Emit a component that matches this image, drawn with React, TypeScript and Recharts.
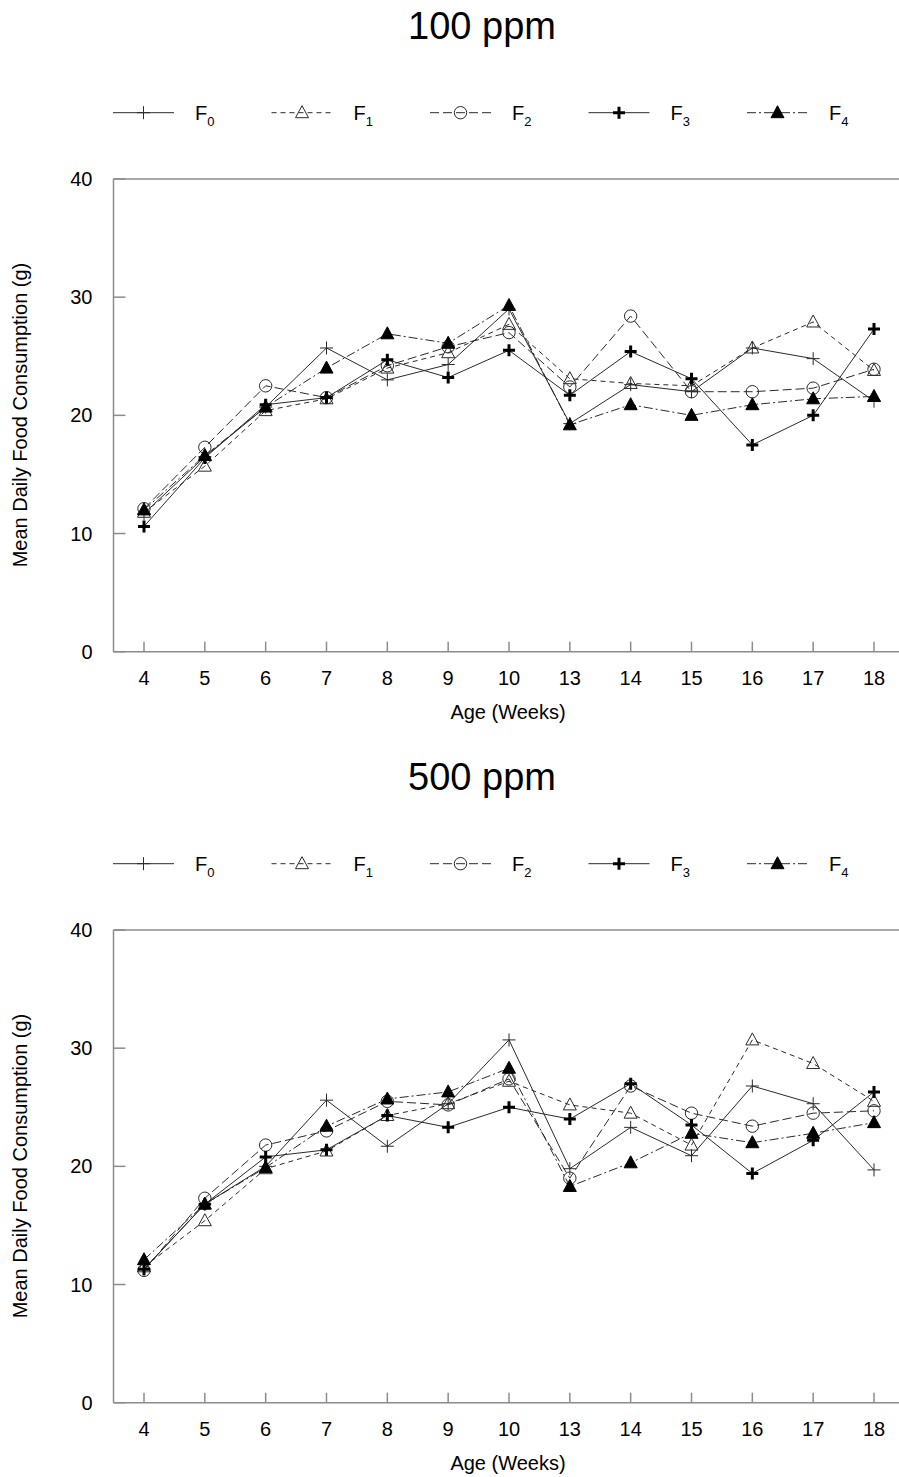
import React from 'react';
import { LineChart, Line, XAxis, YAxis, ReferenceLine } from 'recharts';

const weeks = ['4', '5', '6', '7', '8', '9', '10', '13', '14', '15', '16', '17', '18'];
const yTicks = [0, 10, 20, 30, 40];
const seriesNames = ['0', '1', '2', '3', '4'];

// 100 ppm
const f0_100 = [11.7, 16.5, 20.7, 25.7, 23.0, 24.3, 29.0, 19.3, 22.6, 22.0, 25.7, 24.8, 21.2];
const f1_100 = [11.8, 15.7, 20.4, 21.4, 24.0, 25.3, 27.7, 23.1, 22.7, 22.5, 25.7, 27.9, 23.8];
const f2_100 = [12.1, 17.3, 22.5, 21.5, 24.2, 25.8, 27.0, 22.4, 28.4, 22.0, 22.0, 22.3, 23.9];
const f3_100 = [10.6, 16.4, 20.9, 21.5, 24.7, 23.2, 25.5, 21.7, 25.4, 23.1, 17.5, 20.0, 27.3];
const f4_100 = [12.0, 16.6, 20.7, 24.0, 26.9, 26.1, 29.3, 19.2, 20.9, 20.0, 20.9, 21.4, 21.6];

// 500 ppm
const f0_500 = [11.3, 16.8, 20.0, 25.6, 21.7, 25.3, 30.7, 19.8, 23.3, 20.9, 26.8, 25.3, 19.7];
const f1_500 = [11.5, 15.4, 19.8, 21.3, 24.3, 25.3, 27.2, 25.2, 24.5, 21.8, 30.7, 28.7, 25.5];
const f2_500 = [11.2, 17.3, 21.8, 23.0, 25.5, 25.2, 27.4, 19.0, 26.8, 24.5, 23.4, 24.5, 24.7];
const f3_500 = [11.3, 16.8, 20.8, 21.4, 24.3, 23.3, 25.0, 24.0, 27.0, 23.5, 19.4, 22.2, 26.3];
const f4_500 = [12.1, 16.8, 19.9, 23.4, 25.7, 26.3, 28.3, 18.3, 20.3, 22.8, 22.0, 22.8, 23.7];

const INK = '#2a2a2a';
const AXIS = '#8c8c8c';
const FONT = '"Liberation Sans", Arial, sans-serif';

type Mark = (cx: number, cy: number, key?: string) => React.ReactElement;

const thinPlus: Mark = (cx, cy, key) => (
  <path key={key} d={`M${cx - 6.5},${cy}H${cx + 6.5}M${cx},${cy - 6.5}V${cy + 6.5}`} stroke={INK} strokeWidth={1} fill="none" />
);
const openTri: Mark = (cx, cy, key) => (
  <path key={key} d={`M${cx},${cy - 7}L${cx + 6.5},${cy + 5}L${cx - 6.5},${cy + 5}Z`} stroke={INK} strokeWidth={1} fill="none" />
);
const openCircle: Mark = (cx, cy, key) => (
  <circle key={key} cx={cx} cy={cy} r={6.2} stroke={INK} strokeWidth={1} fill="none" />
);
const boldPlus: Mark = (cx, cy, key) => (
  <path key={key} d={`M${cx - 6},${cy}H${cx + 6}M${cx},${cy - 6}V${cy + 6}`} stroke="#000" strokeWidth={3} fill="none" />
);
const solidTri: Mark = (cx, cy, key) => (
  <path key={key} d={`M${cx},${cy - 7}L${cx + 6.5},${cy + 5}L${cx - 6.5},${cy + 5}Z`} stroke="#000" strokeWidth={1} fill="#000" />
);

const styles = [
  { mark: thinPlus, dash: undefined as string | undefined },
  { mark: openTri, dash: '5 4' },
  { mark: openCircle, dash: '9 4' },
  { mark: boldPlus, dash: undefined },
  { mark: solidTri, dash: '9 3 2 3' },
];

const dotFor = (mark: Mark, id: string) => (props: any) => {
  const { cx, cy, index } = props;
  if (cx == null || cy == null) return <g key={`${id}-${index}`} />;
  return mark(cx, cy, `${id}-${index}`);
};

// ticks point into the plot, like the original
const XTick = (props: any) => {
  const { x, y, payload } = props;
  return (
    <g>
      <line x1={x} x2={x} y1={y} y2={y - 10} stroke={AXIS} strokeWidth={1.5} />
      <text x={x} y={y + 33.3} textAnchor="middle" fontSize={20} fontFamily={FONT} fill="#000">
        {payload.value}
      </text>
    </g>
  );
};

const YTick = (props: any) => {
  const { x, y, payload } = props;
  return (
    <g>
      <line x1={x} x2={x + 12} y1={y} y2={y} stroke={AXIS} strokeWidth={1.5} />
      <text x={x - 21} y={y} dy="0.355em" textAnchor="end" fontSize={20} fontFamily={FONT} fill="#000">
        {payload.value}
      </text>
    </g>
  );
};

const Panel = ({ title, series }: { title: string; series: number[][] }) => {
  const data = weeks.map((w, i) => {
    const row: Record<string, string | number> = { week: w };
    series.forEach((s, k) => {
      row['f' + k] = s[i];
    });
    return row;
  });

  return (
    <div style={{ position: 'relative', width: 899, height: 751, overflow: 'hidden' }}>
      <LineChart
        width={920}
        height={751}
        data={data}
        margin={{ top: 179, right: 15.5, bottom: 39.3, left: 33.5 }}
      >
        <XAxis
          dataKey="week"
          type="category"
          interval={0}
          height={60}
          padding={{ left: 30.5, right: 30.5 }}
          tickSize={0}
          tickMargin={0}
          tickLine={false}
          axisLine={{ stroke: AXIS, strokeWidth: 1.5 }}
          tick={<XTick />}
        />
        <YAxis
          type="number"
          domain={[0, 40]}
          ticks={yTicks}
          width={80}
          tickSize={0}
          tickMargin={0}
          tickLine={false}
          axisLine={{ stroke: AXIS, strokeWidth: 1.5 }}
          tick={<YTick />}
        />
        <ReferenceLine y={40} stroke={AXIS} strokeWidth={1.5} />
        {styles.map((st, k) => (
          <Line
            key={k}
            dataKey={'f' + k}
            type="linear"
            stroke={INK}
            strokeWidth={1}
            strokeDasharray={st.dash}
            dot={dotFor(st.mark, title + k)}
            activeDot={false}
            isAnimationActive={false}
          />
        ))}
      </LineChart>
      <svg
        width={899}
        height={751}
        style={{ position: 'absolute', left: 0, top: 0, pointerEvents: 'none' }}
        fontFamily={FONT}
      >
        <text x={482} y={39} fontSize={38} textAnchor="middle" fill="#000">
          {title}
        </text>
        {seriesNames.map((n, k) => {
          const x0 = 113 + k * 158.5;
          const y0 = 112.7;
          return (
            <g key={n}>
              <line x1={x0} x2={x0 + 61} y1={y0} y2={y0} stroke={INK} strokeWidth={1} strokeDasharray={styles[k].dash} />
              {styles[k].mark(x0 + 30.5, y0)}
              <text x={x0 + 82} y={120} fontSize={20} fill="#000">
                F
                <tspan fontSize={13} dy={6}>
                  {n}
                </tspan>
              </text>
            </g>
          );
        })}
        <text x={508} y={719} fontSize={20} textAnchor="middle" fill="#000">
          Age (Weeks)
        </text>
        <text
          x={20}
          y={415}
          fontSize={20}
          textAnchor="middle"
          dominantBaseline="central"
          transform="rotate(-90 20 415)"
          fill="#000"
        >
          Mean Daily Food Consumption (g)
        </text>
      </svg>
    </div>
  );
};

export default function App() {
  return (
    <div style={{ position: 'absolute', left: 0, top: 0, width: 899, height: 1477, background: '#fff' }}>
      <Panel title="100 ppm" series={[f0_100, f1_100, f2_100, f3_100, f4_100]} />
      <Panel title="500 ppm" series={[f0_500, f1_500, f2_500, f3_500, f4_500]} />
    </div>
  );
}
